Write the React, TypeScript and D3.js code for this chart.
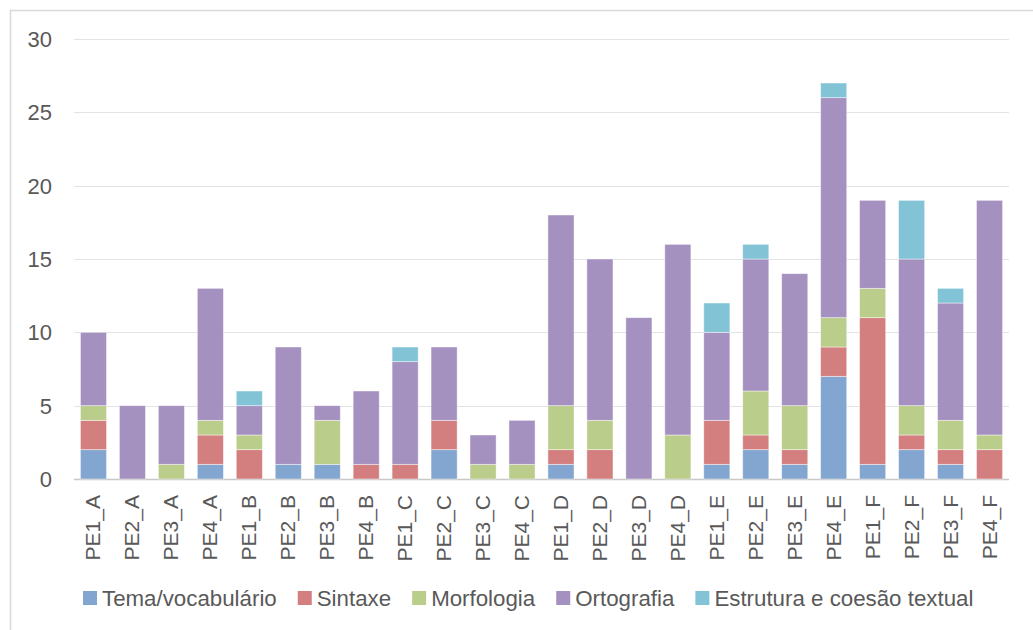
import React, { useLayoutEffect, useRef, useState } from "react";
import * as d3 from "d3";

const categories = [
  "PE1_A", "PE2_A", "PE3_A", "PE4_A",
  "PE1_B", "PE2_B", "PE3_B", "PE4_B",
  "PE1_C", "PE2_C", "PE3_C", "PE4_C",
  "PE1_D", "PE2_D", "PE3_D", "PE4_D",
  "PE1_E", "PE2_E", "PE3_E", "PE4_E",
  "PE1_F", "PE2_F", "PE3_F", "PE4_F",
];

const seriesNames = ["Tema/vocabulário", "Sintaxe", "Morfologia", "Ortografia", "Estrutura e coesão textual"];

const tema = [2, 0, 0, 1, 0, 1, 1, 0, 0, 2, 0, 0, 1, 0, 0, 0, 1, 2, 1, 7, 1, 2, 1, 0];
const sintaxe = [2, 0, 0, 2, 2, 0, 0, 1, 1, 2, 0, 0, 1, 2, 0, 0, 3, 1, 1, 2, 10, 1, 1, 2];
const morfologia = [1, 0, 1, 1, 1, 0, 3, 0, 0, 0, 1, 1, 3, 2, 0, 3, 0, 3, 3, 2, 2, 2, 2, 1];
const ortografia = [5, 5, 4, 9, 2, 8, 1, 5, 7, 5, 2, 3, 13, 11, 11, 13, 6, 9, 9, 15, 6, 10, 8, 16];
const estrutura = [0, 0, 0, 0, 1, 0, 0, 0, 1, 0, 0, 0, 0, 0, 0, 0, 2, 1, 0, 1, 0, 4, 1, 0];

const yTicks = [0, 5, 10, 15, 20, 25, 30];

const colors = ["#82a6cf", "#d47f7f", "#bbcd8b", "#a591bf", "#82c4d6"];

const W = 1033;
const H = 630;
const FONT = "'Liberation Sans', Arial, sans-serif";
const TEXT = "#595959";
const LEGEND_FS = 22.3;

export default function App() {
  const seriesValues = [tema, sintaxe, morfologia, ortografia, estrutura];
  const rows = categories.map((c, i) => {
    const r: any = { cat: c };
    seriesNames.forEach((s, k) => (r[s] = seriesValues[k][i]));
    return r;
  });
  const stack = d3.stack<any>().keys(seriesNames)(rows);

  const x = d3.scaleBand().domain(categories).range([74, 1009]).paddingInner(0.33).paddingOuter(0.165);
  const y = d3.scaleLinear().domain([0, 30]).range([479, 39]);

  const measureRef = useRef<SVGGElement>(null);
  const [widths, setWidths] = useState<number[] | null>(null);

  useLayoutEffect(() => {
    document.body.style.margin = "0";
    if (measureRef.current) {
      const ts = Array.from(measureRef.current.querySelectorAll("text")) as SVGTextElement[];
      setWidths(ts.map((t) => t.getComputedTextLength()));
    }
  }, []);

  const legendStart = 83;
  const sq = 14;
  const sqGap = 5;
  const itemGap = 21;
  const legendX: number[] = [];
  if (widths) {
    let cx = legendStart;
    widths.forEach((w) => {
      legendX.push(cx);
      cx += sq + sqGap + w + itemGap;
    });
  }

  return (
    <svg width={W} height={H} style={{ display: "block", background: "#fff" }}>
      <rect x={10.5} y={10.5} width={1100} height={700} fill="#fff" stroke="#d9d9d9" strokeWidth={1.5} />
      {yTicks.map((t) => (
        <g key={t}>
          <line
            x1={74}
            x2={1009}
            y1={Math.round(y(t)) + 0.5}
            y2={Math.round(y(t)) + 0.5}
            stroke={t === 0 ? "#c8c8c8" : "#e3e3e3"}
            strokeWidth={t === 0 ? 1.5 : 1.2}
          />
          <text x={52} y={y(t)} dy="0.36em" textAnchor="end" fontFamily={FONT} fontSize={22} fill={TEXT}>
            {t}
          </text>
        </g>
      ))}
      {stack.map((s, k) => (
        <g key={s.key} fill={colors[k]}>
          {s.map((d, i) =>
            d[1] - d[0] > 0 ? (
              <rect
                key={i}
                x={x(categories[i])!}
                y={y(d[1])}
                width={x.bandwidth()}
                height={y(d[0]) - y(d[1])}
                stroke="#ffffff"
                strokeOpacity={0.55}
                strokeWidth={0.8}
              />
            ) : null
          )}
        </g>
      ))}
      {categories.map((c) => {
        const cx = x(c)! + x.bandwidth() / 2;
        return (
          <text
            key={c}
            transform={`translate(${cx + 7},495) rotate(-90)`}
            textAnchor="end"
            fontFamily={FONT}
            fontSize={21}
            fill={TEXT}
          >
            {c}
          </text>
        );
      })}
      <g ref={measureRef} style={{ visibility: "hidden" }}>
        {seriesNames.map((n) => (
          <text key={n} fontFamily={FONT} fontSize={LEGEND_FS}>
            {n}
          </text>
        ))}
      </g>
      {widths &&
        seriesNames.map((n, k) => (
          <g key={n}>
            <rect x={legendX[k]} y={591} width={sq} height={sq} fill={colors[k]} />
            <text x={legendX[k] + sq + sqGap} y={605.5} fontFamily={FONT} fontSize={LEGEND_FS} fill={TEXT}>
              {n}
            </text>
          </g>
        ))}
    </svg>
  );
}
